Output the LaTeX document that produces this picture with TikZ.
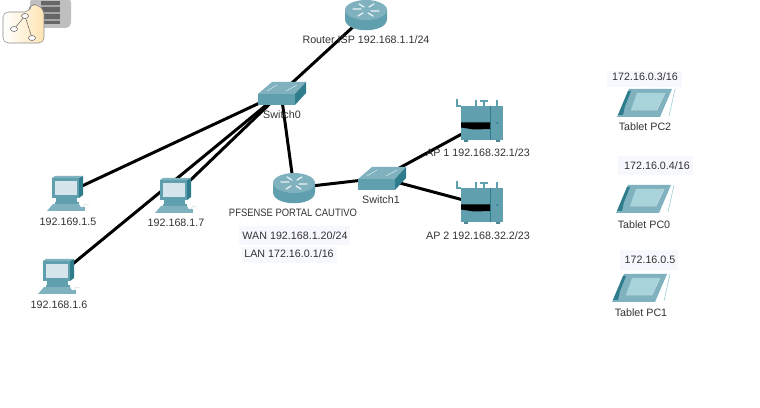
\documentclass[tikz,border=0pt]{standalone}
\usepackage{fontspec}
\setmainfont{Liberation Sans}
\definecolor{tealfront}{HTML}{5F9FAE}
\definecolor{tealtop}{HTML}{7FB1BE}
\definecolor{tealdark}{HTML}{2E7C8C}
\definecolor{tealscreen}{HTML}{D6E5EB}
\definecolor{tabscreen}{HTML}{A9D3DA}
\definecolor{ipback}{HTML}{F7F8FE}
\tikzset{
    lbl/.style={inner sep=0pt, font=\fontsize{6.1}{7}\selectfont, text=black!80},
    link/.style={line width=1.7pt, black},
    pics/switchicon/.style={code={
        \fill[tealtop] (-23,1)--(-9,-11)--(25,-11)--(14,1)--cycle;
        \fill[tealfront] (-23,1) rectangle (14,12);
        \fill[tealdark] (14,1)--(25,-11)--(25,0)--(14,12)--cycle;
        \draw[white!70!tealtop, line width=0.3pt] (-14,-2)--(-4,-8) (5,-2)--(16,-8);
    }},
    pics/routericon/.style={code={
        \shade[left color=tealfront, middle color=white!90!tealfront, right color=tealfront]
            (-21,0)--(-21,9) .. controls (-21,24) and (21,24) .. (21,9)--(21,0)--cycle;
        \fill[tealtop] (0,0) ellipse [x radius=21, y radius=10];
        \draw[white!85!tealtop, line width=0.7pt, line cap=round]
            (-13,-1)--(-5,-1) (5,1)--(13,1) (-7,-6)--(-2,-3) (2,3)--(7,6) (3,-3)--(8,-6) (-8,6)--(-3,3);
    }},
    pics/apicon/.style={code={
        \draw[tealfront, line width=0.7pt] (-25,-24)--(-25,-17)--(-21,-17) (-6,-23)--(-6,-17)
            (2,-23)--(2,-17) (-2,-22)--(6,-22) (15,-23)--(15,-17);
        \fill[tealfront] (-21,-17) rectangle (21,17);
        \fill[tealfront!85!black] (-18,17) rectangle (-14,19) (14,17) rectangle (18,19);
        \draw[tealdark, line width=0.3pt] (8,-17)--(8,17);
        \fill[black] (-21,-0.5)--(8,-0.5)--(8,6)--(-8,6.5)--(-21,4.5)--cycle;
        \fill[tealdark] (15,0) circle (1);
    }},
    pics/pcicon/.style={code={
        \fill[tealfront] (-15,-15) rectangle (12,5);
        \fill[tealdark] (12,-15)--(16,-17)--(16,2)--(12,5)--cycle;
        \fill[tealtop] (-15,-15)--(-12,-17)--(16,-17)--(12,-15)--cycle;
        \fill[tealscreen] (-12,-12) rectangle (10,2);
        \fill[tealfront] (-11,5) rectangle (10,9);
        \fill[tealfront] (-12,9) rectangle (12,11);
        \fill[tealtop] (-14,11)--(12,11)--(16,18)--(-20,18)--cycle;
        \fill[tealtop] (14,14) rectangle (18,18);
        \draw[tealscreen, line width=0.4pt] (16,14)--(18,11)--(22,12);
    }},
    pics/tableticon/.style={code={
        \fill[tealtop] (-28,14)--(-16,-14)--(27,-14)--(15,14)--cycle;
        \fill[tealdark] (-27,12)--(-17,-12)--(-14,-12)--(-20,3)--(-22,12)--cycle;
        \fill[tabscreen] (-14,7)--(-8,-10)--(20,-10)--(12,7)--cycle;
        \draw[white!60!tealfront, line width=0.4pt] (-14,7)--(12,7)--(20,-10);
        \draw[tabscreen, line width=0.4pt] (30,-14)--(24,13);
    }},
}
\begin{document}
\begin{tikzpicture}[x=0.02cm, y=-0.02cm]
    \useasboundingbox (0,0) rectangle (760,408);
    \clip (0,0) rectangle (760,408);
    %------------Equipos----------
    \foreach \name/\x/\y in {isp/366/15, swzero/281/93, swone/381/178, pfsense/294/188,
        apone/482/123, aptwo/482/205, pcfive/67/193, pcseven/175/195, pcsix/58/276} {
        \coordinate (\name) at (\x,\y);
    }
    %------------Enlaces----------
    \foreach \a/\b in {swzero/isp, swzero/pcfive, swzero/pcseven, swzero/pcsix,
        swzero/pfsense, pfsense/swone, swone/apone, swone/aptwo} {
        \draw[link] (\a) -- (\b);
    }
    %------------Iconos----------
    \pic at (366,10) {routericon};
    \pic at (294,183) {routericon};
    \pic at (swzero) {switchicon};
    \pic at (swone) {switchicon};
    \pic at (apone) {apicon};
    \pic at (aptwo) {apicon};
    \foreach \name in {pcfive,pcseven,pcsix} {
        \pic at (\name) {pcicon};
    }
    \pic at (645,103) {tableticon};
    \pic at (644,199) {tableticon};
    \pic at (640,288) {tableticon};
    %------------Carpeta----------
    \fill[black!25, rounded corners=3pt] (30,-3) rectangle (71,28);
    \fill[black!60] (41,1) rectangle (60,24);
    \foreach \y in {5,12,19} {
        \fill[black!35] (41,\y) rectangle (60,\y+2);
    }
    \shade[left color=white, right color=yellow!30!orange!30, rounded corners=3pt, draw=black!45, line width=0.3pt]
        (3,12) -- (3,43) -- (44,43) -- (44,10) -- (38,5) -- (30,4) -- (30,12) -- cycle;
    \draw[black!60, line width=0.3pt] (25,16) -- (14,29) (25,16) -- (32,38);
    \foreach \x/\y in {25/16, 14/29, 32/38} {
        \draw[black!60, line width=0.3pt, fill=white] (\x,\y) ellipse [x radius=3.5, y radius=2.5];
    }
    %------------Fondos IP----------
    \fill[ipback] (607,71) rectangle (682,87);
    \fill[ipback] (618,156) rectangle (693,175);
    \fill[ipback] (620,250) rectangle (678,270);
    \fill[ipback] (239,226) rectangle (350,245);
    \fill[ipback] (242,247) rectangle (337,263);
    %------------Etiquetas----------
    \foreach \name/\x/\y/\txt in {lblisp/366/40/{Router ISP 192.168.1.1/24},
        lblswzero/282/115/{Switch0}, lblswone/381/200/{Switch1},
        lblpf/293/213/{\scalebox{0.88}[1]{PFSENSE PORTAL CAUTIVO}}, lblwan/295/236/{WAN 192.168.1.20/24},
        lbllan/289/254/{LAN 172.16.0.1/16}, lblapone/478/153/{AP 1 192.168.32.1/23},
        lblaptwo/478/236/{AP 2 192.168.32.2/23}, lblfive/68/222/{192.169.1.5},
        lblseven/176/223/{192.168.1.7}, lblsix/59/305/{192.168.1.6},
        lblpctwo/645/127/{Tablet PC2}, lblpczero/644/225/{Tablet PC0}, lblpcone/641/313/{Tablet PC1},
        ipone/645/77/{172.16.0.3/16}, iptwo/657/166/{172.16.0.4/16}, ipthree/650/260/{172.16.0.5}} {
        \node[lbl] (\name) at (\x,\y) {\txt};
    }
\end{tikzpicture}
\end{document}
